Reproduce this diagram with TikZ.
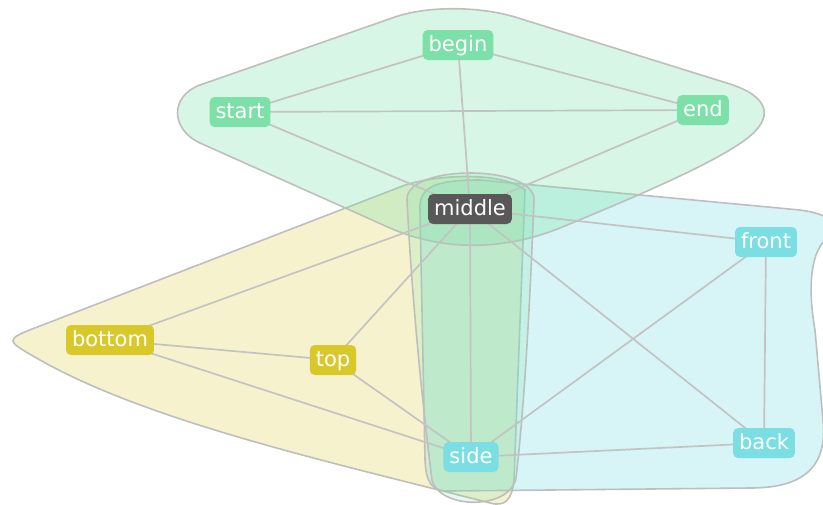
\documentclass[tikz,border=0pt]{standalone}
\usepackage{fontspec}
\setmainfont{DejaVu Sans}
\pgfdeclarelayer{hull}
\pgfdeclarelayer{edge}
\pgfsetlayers{hull,edge,main}
\definecolor{ngreen}{RGB}{125,224,168}
\definecolor{nyellow}{RGB}{216,200,42}
\definecolor{ncyan}{RGB}{122,222,226}
\definecolor{ndark}{RGB}{88,88,88}
\definecolor{edgegray}{RGB}{195,195,195}
\definecolor{hullgray}{RGB}{190,190,190}
\begin{document}
\begin{tikzpicture}[x=1pt,y=-1pt,
  box/.style={rounded corners=5pt, text=white, font=\fontsize{21}{21}\selectfont,
    inner xsep=6pt, inner ysep=5pt, text height=16pt, text depth=4pt},
  gbox/.style={box, fill=ngreen},
  ybox/.style={box, fill=nyellow},
  cbox/.style={box, fill=ncyan},
  dbox/.style={box, fill=ndark},
  edge/.style={draw=edgegray, line width=1.7pt},
  hull/.style={draw=hullgray, line width=1.6pt, fill opacity=0.3}]
\useasboundingbox (0,0) rectangle (823,504);
\clip (0,0) rectangle (823,504);

% nodes
\node[gbox] (begin) at (458,45) {begin};
\node[gbox] (start) at (240,112) {start};
\node[gbox] (end) at (703,110) {end};
\node[dbox] (middle) at (470,209) {middle};
\node[cbox] (front) at (766,242) {front};
\node[cbox] (back) at (764,443) {back};
\node[cbox] (side) at (471,457) {side};
\node[ybox] (bottom) at (110,340) {bottom};
\node[ybox] (top) at (333,360) {top};

% hulls
\begin{pgfonlayer}{hull}
% yellow group: bottom, top, side, middle
\draw[hull, fill=nyellow, fill opacity=0.23]
  (40,326) -- (400,187)
  .. controls (430,175) and (500,170) .. (525,190)
  -- (514,480)
  .. controls (512,500) and (505,507) .. (490,503)
  .. controls (330,462) and (150,422) .. (40,360)
  .. controls (5,340) and (3,340) .. cycle;
% cyan group: middle, front, back, side
\draw[hull, fill=ncyan]
  (420,210) .. controls (418,185) and (440,180) .. (480,180)
  -- (800,210)
  .. controls (830,214) and (845,225) .. (825,240)
  .. controls (810,255) and (808,290) .. (815,330)
  -- (823,420)
  .. controls (828,470) and (800,488) .. (750,488)
  -- (450,491)
  .. controls (430,492) and (426,480) .. (425,460)
  -- cycle;
% green group: begin, start, end, middle
\draw[hull, fill=ngreen]
  (395,17) .. controls (430,5) and (482,7) .. (515,17)
  -- (730,84)
  .. controls (770,97) and (775,118) .. (745,140)
  .. controls (712,164) and (640,195) .. (560,228)
  .. controls (500,252) and (440,250) .. (390,228)
  -- (200,143)
  .. controls (170,129) and (170,96) .. (200,85)
  -- cycle;
% capsule: middle, side
\draw[hull, fill=ngreen, fill opacity=0.2]
  (407,200) .. controls (405,164) and (535,164) .. (534,200)
  .. controls (530,300) and (525,400) .. (516,478)
  .. controls (510,510) and (440,510) .. (432,480)
  .. controls (422,400) and (412,300) .. cycle;
\end{pgfonlayer}

% edges
\begin{pgfonlayer}{edge}
\draw[edge] (begin.center) -- (start.center);
\draw[edge] (begin.center) -- (end.center);
\draw[edge] (begin.center) -- (middle.center);
\draw[edge] (start.center) -- (end.center);
\draw[edge] (start.center) -- (middle.center);
\draw[edge] (end.center) -- (middle.center);
\draw[edge] (middle.center) -- (front.center);
\draw[edge] (middle.center) -- (back.center);
\draw[edge] (middle.center) -- (side.center);
\draw[edge] (middle.center) -- (top.center);
\draw[edge] (middle.center) -- (bottom.center);
\draw[edge] (front.center) -- (back.center);
\draw[edge] (front.center) -- (side.center);
\draw[edge] (back.center) -- (side.center);
\draw[edge] (bottom.center) -- (top.center);
\draw[edge] (bottom.center) -- (side.center);
\draw[edge] (top.center) -- (side.center);
\end{pgfonlayer}
\end{tikzpicture}
\end{document}
